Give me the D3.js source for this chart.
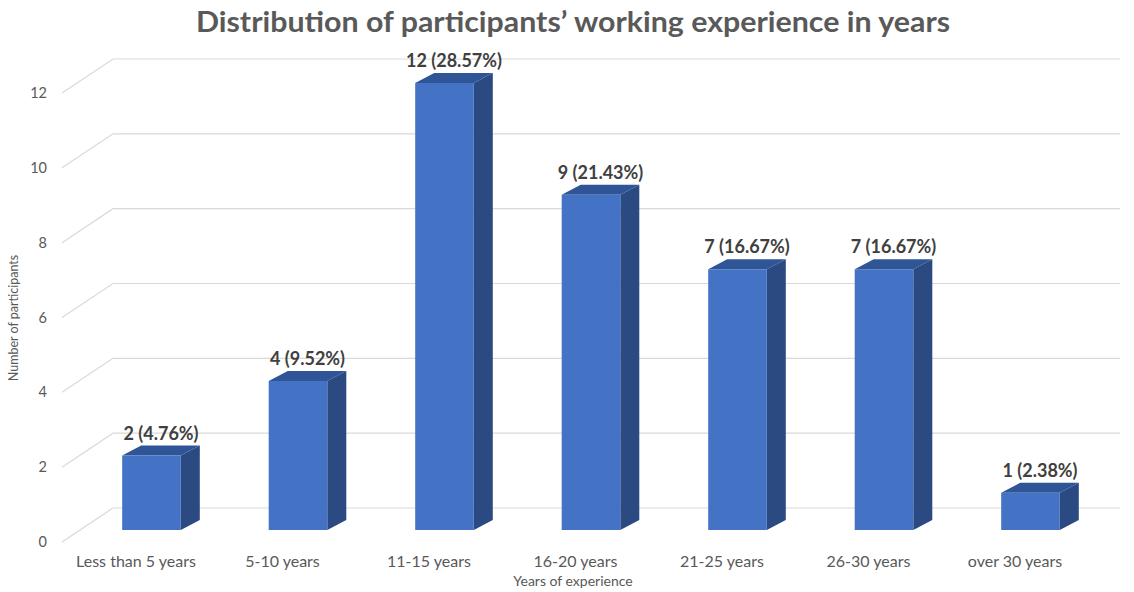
<!DOCTYPE html>
<html>
<head>
<meta charset="utf-8">
<script src="https://cdn.jsdelivr.net/npm/d3@7"></script>
<style>
  html, body { margin: 0; padding: 0; background: #fff; }
  svg { display: block; font-family: Lato, "Open Sans", sans-serif; }
</style>
</head>
<body>
<svg id="chart" width="1134" height="592"></svg>
<script>
const categories = ["Less than 5 years", "5-10 years", "11-15 years", "16-20 years", "21-25 years", "26-30 years", "over 30 years"];
const counts = [2, 4, 12, 9, 7, 7, 1];
const percentLabels = ["4.76%", "9.52%", "28.57%", "21.43%", "16.67%", "16.67%", "2.38%"];
const yTicks = [0, 2, 4, 6, 8, 10, 12];
const title = "Distribution of participants\u2019 working experience in years";
const xTitle = "Years of experience";
const yTitle = "Number of participants";

const svg = d3.select("#chart");

// perspective geometry
const depthDX = 51, depthDY = -34;   // floor depth of the gridline wall
const barDX = 19, barDY = -10;       // bar depth

const yBack = d3.scaleLinear().domain([0, 12]).range([508, 59]);
const yFront = d3.scaleLinear().domain([0, 12]).range([508 - depthDY, 59 - depthDY]);
const yBar = d3.scaleLinear().domain([0, 12]).range([530, 83]);
const x = d3.scaleBand().domain(categories).range([78.25, 1103.75]).padding(0);
const barW = x.bandwidth() * 0.4;

const wallLeft = 62 + depthDX, wallRight = 1120;

// gridlines
const grid = svg.append("g").attr("class", "grid");
yTicks.forEach(t => {
  grid.append("path")
    .attr("d", `M${62},${yFront(t)} L${wallLeft},${yBack(t)} L${wallRight},${yBack(t)}`)
    .attr("fill", "none")
    .attr("stroke", "#d9d9d9")
    .attr("stroke-width", 1.2);
});

// y axis labels
const yAxis = d3.axisLeft(yFront).tickValues(yTicks).tickSize(0).tickPadding(0);
const gy = svg.append("g").attr("transform", "translate(47,0)").call(yAxis);
gy.select(".domain").remove();
gy.selectAll("text").attr("fill", "#595959").style("font-size", "14.5px").style("font-family", "Lato, 'Open Sans', sans-serif");

// bars
const bars = svg.append("g").selectAll("g").data(categories).join("g");
bars.each(function(c, i) {
  const g = d3.select(this);
  const x0 = x(c) + (x.bandwidth() - barW) / 2;
  const x1 = x0 + barW;
  const yT = yBar(counts[i]);
  const yB = yBar(0);
  g.append("path")
    .attr("d", `M${x1},${yT} L${x1 + barDX},${yT + barDY} L${x1 + barDX},${yB + barDY} L${x1},${yB} Z`)
    .attr("fill", "#2B4A82");
  g.append("path")
    .attr("d", `M${x0},${yT} L${x0 + barDX},${yT + barDY} L${x1 + barDX},${yT + barDY} L${x1},${yT} Z`)
    .attr("fill", "#2F5597");
  g.append("rect")
    .attr("x", x0).attr("y", yT)
    .attr("width", barW).attr("height", yB - yT)
    .attr("fill", "#4472C4");
  g.append("text")
    .attr("x", (x0 + x1 + barDX) / 2)
    .attr("y", yT + barDY - 6)
    .attr("text-anchor", "middle")
    .attr("fill", "#404040")
    .style("font-size", "18px")
    .style("font-weight", "bold")
    .text(`${counts[i]} (${percentLabels[i]})`);
});

// category labels
svg.append("g").selectAll("text").data(categories).join("text")
  .attr("x", c => x(c) + x.bandwidth() / 2 - 15.5)
  .attr("y", 567)
  .attr("text-anchor", "middle")
  .attr("fill", "#595959")
  .style("font-size", "16px")
  .text(c => c);

// axis titles
svg.append("text")
  .attr("x", 573).attr("y", 586)
  .attr("text-anchor", "middle")
  .attr("fill", "#595959")
  .style("font-size", "14px")
  .text(xTitle);

svg.append("text")
  .attr("transform", "translate(18,318) rotate(-90)")
  .attr("text-anchor", "middle")
  .attr("fill", "#595959")
  .style("font-size", "12.5px")
  .text(yTitle);

// chart title
svg.append("text")
  .attr("x", 573).attr("y", 32)
  .attr("text-anchor", "middle")
  .attr("fill", "#595959")
  .style("font-size", "28px")
  .style("font-weight", "bold")
  .attr("textLength", 754)
  .attr("lengthAdjust", "spacingAndGlyphs")
  .text(title);
</script>
</body>
</html>
